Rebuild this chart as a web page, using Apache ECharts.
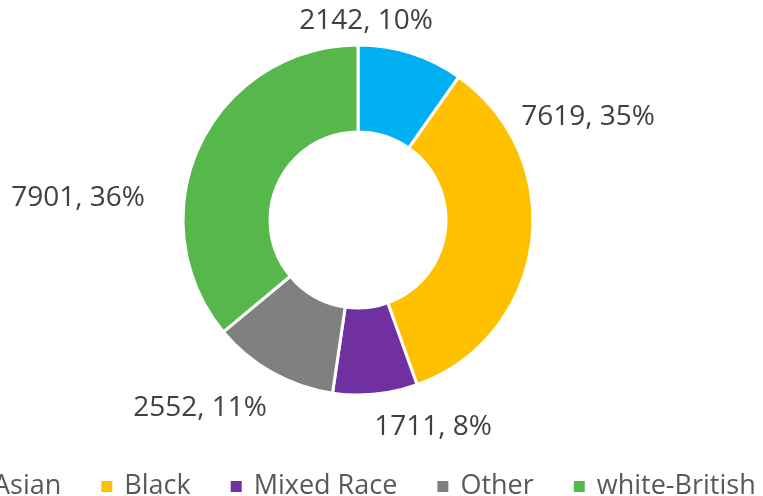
<!DOCTYPE html>
<html>
<head>
<meta charset="utf-8">
<script src="https://cdn.jsdelivr.net/npm/echarts@6/dist/echarts.min.js"></script>
<style>
    html, body { margin: 0; padding: 0; background: #fff; }
    #chart { width: 763px; height: 496px; }
</style>
</head>
<body>
<div id="chart"></div>
<script>
    // 数据
    var categories = ['Asian', 'Black', 'Mixed Race', 'Other', 'white-British'];
    var values = [2142, 7619, 1711, 2552, 7901];
    var percentLabels = ['10%', '35%', '8%', '11%', '36%'];
    var colors = ['#00B0F0', '#FFC000', '#7030A0', '#808080', '#56B74B'];

    // 标签位置（Excel 的数据标签摆放，ECharts 默认是径向摆放）
    var labelSpots = [[366, 21], [588, 117], [433, 427], [200, 408], [78, 198]];

    var pieData = [];
    for (var i = 0; i < categories.length; i++) {
        pieData.push({
            name: categories[i],
            value: values[i],
            itemStyle: { color: colors[i] }
        });
    }

    var myChart = echarts.init(document.getElementById('chart'));
    var option = {
        animation: false,
        textStyle: { fontFamily: 'Open Sans' },
        legend: {
            data: categories,
            left: -37,
            top: 468,
            width: 900,
            itemWidth: 13,
            itemHeight: 13,
            itemGap: 38,
            icon: 'rect',
            textStyle: {
                fontSize: 27,
                color: '#595959',
                padding: [0, 0, 0, 6]
            }
        },
        series: [
            {
                name: 'ethnicity',
                type: 'pie',
                center: [358, 220],
                radius: [88, 175],
                startAngle: 90,
                clockwise: true,
                itemStyle: {
                    borderColor: '#fff',
                    borderWidth: 3
                },
                label: {
                    show: true,
                    position: 'outside',
                    fontSize: 28,
                    color: '#404040',
                    formatter: function (p) {
                        return values[p.dataIndex] + ', ' + percentLabels[p.dataIndex];
                    }
                },
                labelLine: { show: false },
                labelLayout: function (p) {
                    var s = labelSpots[p.dataIndex];
                    return { x: s[0], y: s[1], align: 'center', verticalAlign: 'middle' };
                },
                data: pieData
            }
        ]
    };
    myChart.setOption(option);
</script>
</body>
</html>
